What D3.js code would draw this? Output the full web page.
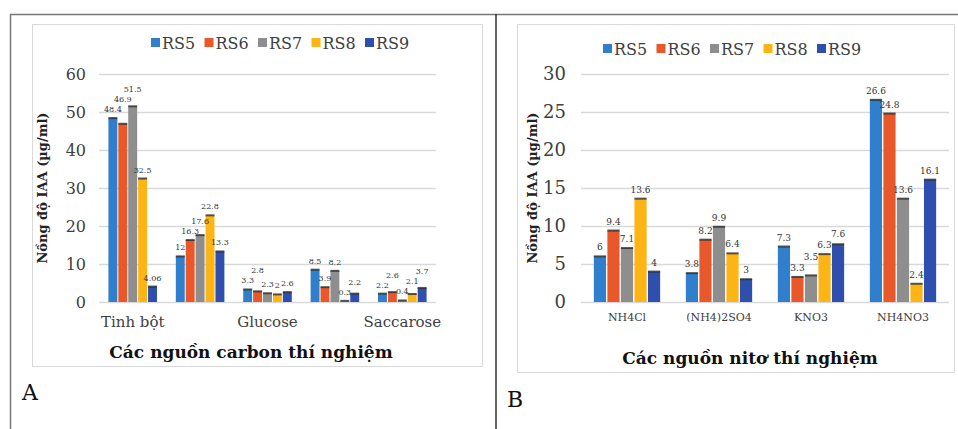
<!DOCTYPE html>
<html>
<head>
<meta charset="utf-8">
<script src="https://cdn.jsdelivr.net/npm/d3@7"></script>
<style>
  body { margin: 0; background: #fff; }
</style>
</head>
<body>
<script>
// data
var series = ["RS5", "RS6", "RS7", "RS8", "RS9"];
var colors = ["#2f7fcc", "#e8582a", "#8e8e8e", "#fdb415", "#2e4fae"];

var carbonSources = ["Tinh bột", "Fructose", "Glucose", "Maltose", "Saccarose"];
var carbonShown = ["Tinh bột", "Glucose", "Saccarose"];
var carbonValues = [
  [48.4, 46.9, 51.5, 32.5, 4.06],
  [12, 16.3, 17.6, 22.8, 13.3],
  [3.3, 2.8, 2.3, 2, 2.6],
  [8.5, 3.9, 8.2, 0.3, 2.2],
  [2.2, 2.6, 0.4, 2.1, 3.7]
];
var carbonTicks = [0, 10, 20, 30, 40, 50, 60];

var nitoSources = ["NH4Cl", "(NH4)2SO4", "KNO3", "NH4NO3"];
var nitoValues = [
  [6, 9.4, 7.1, 13.6, 4],
  [3.8, 8.2, 9.9, 6.4, 3],
  [7.3, 3.3, 3.5, 6.3, 7.6],
  [26.6, 24.8, 13.6, 2.4, 16.1]
];
var nitoTicks = [0, 5, 10, 15, 20, 25, 30];

var yTitle = "Nồng độ IAA (µg/ml)";

var width = 958, height = 429;
var serif = "'DejaVu Serif', serif";

var svg = d3.select("body").append("svg")
    .attr("width", width)
    .attr("height", height)
    .attr("font-family", serif);

// page frame
svg.append("line").attr("x1", 10).attr("x2", width).attr("y1", 14.5).attr("y2", 14.5)
  .attr("stroke", "#777").attr("stroke-width", 1.5);
svg.append("line").attr("x1", 10.5).attr("x2", 10.5).attr("y1", 14).attr("y2", height)
  .attr("stroke", "#777").attr("stroke-width", 1.5);
svg.append("line").attr("x1", 496).attr("x2", 496).attr("y1", 14).attr("y2", height)
  .attr("stroke", "#333").attr("stroke-width", 1.5);

function drawChart(o){
  var g = svg.append("g");

  // chart box
  g.append("rect")
    .attr("x", o.box[0] + 0.5).attr("y", o.box[1] + 0.5)
    .attr("width", o.box[2]).attr("height", o.box[3])
    .attr("fill", "none").attr("stroke", "#d9d9d9");

  var x = d3.scaleBand().domain(o.cats).range([o.left, o.right]).paddingInner(0.25).paddingOuter(0.125);
  var x1 = d3.scaleBand().domain(series).range([0, x.bandwidth()]).padding(0.1);
  var y = d3.scaleLinear().domain([0, d3.max(o.ticks)]).range([o.bottom, o.top]);

  // gridlines
  g.selectAll(".grid").data(o.ticks).enter().append("line")
    .attr("x1", o.left).attr("x2", o.right)
    .attr("y1", function(d){ return Math.round(y(d)) + 0.5; })
    .attr("y2", function(d){ return Math.round(y(d)) + 0.5; })
    .attr("stroke", "#d9d9d9").attr("stroke-width", 1.5);

  // y tick labels
  var yAxis = d3.axisLeft(y).tickValues(o.ticks).tickSize(0).tickPadding(0);
  var ya = g.append("g").attr("transform", "translate(" + o.tickX + ",0)").call(yAxis)
    .attr("font-family", serif);
  ya.select(".domain").remove();
  ya.selectAll("text").attr("font-size", o.tickSize).attr("fill", "#404040");

  // x labels
  var xAxis = d3.axisBottom(x).tickValues(o.shown).tickSize(0).tickPadding(0);
  var xa = g.append("g").attr("transform", "translate(0," + o.xLabelY + ")").call(xAxis)
    .attr("font-family", serif);
  xa.select(".domain").remove();
  xa.selectAll("text").attr("font-size", o.catSize).attr("fill", "#404040");

  // bars
  var groups = g.selectAll(".grp").data(o.values).enter().append("g")
    .attr("transform", function(d, i){ return "translate(" + x(o.cats[i]) + ",0)"; });

  var bars = groups.selectAll(".bar")
    .data(function(d){ return d.map(function(v, j){ return {v: v, s: series[j], c: colors[j]}; }); })
    .enter();

  bars.append("rect")
    .attr("x", function(d){ return x1(d.s); })
    .attr("width", x1.bandwidth())
    .attr("y", function(d){ return y(d.v); })
    .attr("height", function(d){ return o.bottom - y(d.v); })
    .attr("fill", function(d){ return d.c; });

  // small error caps
  bars.append("rect")
    .attr("x", function(d){ return x1(d.s); })
    .attr("width", x1.bandwidth())
    .attr("y", function(d){ return y(d.v) - 1; })
    .attr("height", 2)
    .attr("fill", "#2b2b2b")
    .attr("opacity", 0.8);

  bars.append("text")
    .attr("class", "val")
    .attr("x", function(d){ return x1(d.s) + x1.bandwidth() / 2; })
    .attr("y", function(d){ return y(d.v) - 6; })
    .attr("text-anchor", "middle")
    .attr("font-size", o.valSize)
    .attr("fill", "#333")
    .text(function(d){ return d.v; });

  // nudge value labels that collide with the previous one in the group
  groups.each(function(){
    var prev = null;
    d3.select(this).selectAll("text.val").each(function(){
      var t = d3.select(this), b = this.getBBox();
      if (prev && b.x < prev.x + prev.width && Math.abs(b.y - prev.y) < b.height){
        var ny = +t.attr("y") - (b.y + b.height - prev.y) - 1;
        t.attr("y", ny);
        b = this.getBBox();
      }
      prev = b;
    });
  });

  // legend
  var lg = g.selectAll(".leg").data(series).enter().append("g")
    .attr("transform", function(d, i){ return "translate(" + (o.legX + i * o.legStep) + "," + o.legY + ")"; });
  lg.append("rect").attr("x", 0).attr("y", -5).attr("width", 9).attr("height", 9)
    .attr("fill", function(d, i){ return colors[i]; });
  lg.append("text").attr("x", 11).attr("y", 6)
    .attr("font-size", o.legSize).attr("fill", "#404040")
    .text(function(d){ return d; });

  // axis titles
  g.append("text")
    .attr("transform", "translate(" + o.yTitleX + "," + ((o.top + o.bottom) / 2) + ") rotate(-90)")
    .attr("text-anchor", "middle")
    .attr("font-size", 13).attr("font-weight", "bold").attr("fill", "#222")
    .text(yTitle);

  g.append("text")
    .attr("x", o.xTitleX).attr("y", o.xTitleY)
    .attr("text-anchor", "middle")
    .attr("font-size", o.xTitleSize).attr("font-weight", "bold").attr("fill", "#111")
    .text(o.xTitle);

  // panel letter
  g.append("text")
    .attr("x", o.letterX).attr("y", o.letterY)
    .attr("font-size", 22).attr("fill", "#111")
    .text(o.letter);
}

drawChart({
  box: [32, 24, 450, 342],
  cats: carbonSources, shown: carbonShown, values: carbonValues, ticks: carbonTicks,
  left: 99, right: 436, top: 74, bottom: 302,
  tickX: 86, tickSize: 16, xLabelY: 316, catSize: 15, valSize: 8,
  legX: 151, legY: 43, legStep: 53.5, legSize: 16,
  yTitleX: 47, xTitle: "Các nguồn carbon thí nghiệm", xTitleX: 251, xTitleY: 358, xTitleSize: 17,
  letter: "A", letterX: 22, letterY: 400
});

drawChart({
  box: [517, 24, 437, 348],
  cats: nitoSources, shown: nitoSources, values: nitoValues, ticks: nitoTicks,
  left: 581, right: 949, top: 74, bottom: 302,
  tickX: 566, tickSize: 18, xLabelY: 313, catSize: 11, valSize: 9,
  legX: 603, legY: 49, legStep: 53.5, legSize: 16,
  yTitleX: 537, xTitle: "Các nguồn nitơ thí nghiệm", xTitleX: 750, xTitleY: 364, xTitleSize: 17,
  letter: "B", letterX: 507, letterY: 407
});
</script>
</body>
</html>
